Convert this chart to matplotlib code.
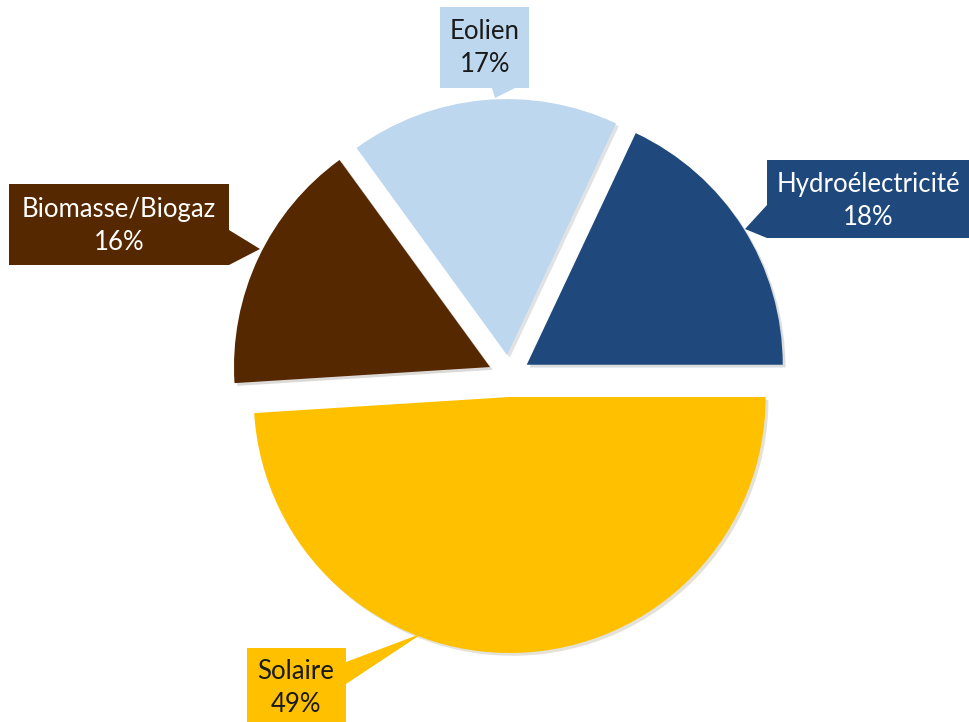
import matplotlib.pyplot as plt
from matplotlib.patches import Polygon
import matplotlib.patheffects as pe

# data
labels = ['Hydroélectricité', 'Eolien', 'Biomasse/Biogaz', 'Solaire']
values = [18, 17, 16, 49]
colors = ['#1F497D', '#BDD7EE', '#562800', '#FFC000']
text_colors = ['white', '#1a1a1a', 'white', '#1a1a1a']

H = 722
fig = plt.figure(figsize=(9.7, 7.22), dpi=100)
ax = fig.add_axes([0, 0, 1, 1])

wedges, _ = ax.pie(values, colors=colors, startangle=0, counterclock=True,
                   center=(509, H - 376), radius=256, explode=[21] * 4,
                   frame=True)
for w in wedges:
    w.set_path_effects([pe.SimplePatchShadow(offset=(2, -2), alpha=0.15), pe.Normal()])
ax.set_xlim(0, 970)
ax.set_ylim(0, H)
ax.axis('off')

# callout boxes: (x0, x1, y0, y1) in pixels from top, pointer triangle, text center
boxes = [
    ((767, 970, 160, 238), [(767, 205), (745, 229), (767, 238)], (868, 201)),
    ((440, 529, 7, 88), [(492, 88), (495, 98), (515, 88)], (485, 48)),
    ((9, 229, 184, 265), [(229, 230), (260, 249), (229, 265)], (119, 226)),
    ((247, 346, 648, 730), [(346, 662), (423, 633), (346, 684)], (296, 688)),
]

for i in range(len(labels)):
    (x0, x1, y0, y1), tri, (tx, ty) = boxes[i]
    rect = [(x0, H - y0), (x1, H - y0), (x1, H - y1), (x0, H - y1)]
    ax.add_patch(Polygon(rect, closed=True, facecolor=colors[i], edgecolor='none', zorder=3))
    ax.add_patch(Polygon([(px, H - py) for px, py in tri], closed=True,
                         facecolor=colors[i], edgecolor='none', zorder=3))
    ax.text(tx, H - ty, '%s\n%d%%' % (labels[i], values[i]), ha='center', va='center',
            color=text_colors[i], fontsize=18.5, family='Lato', linespacing=1.38, zorder=4)

fig.savefig('out.png', dpi=100)
